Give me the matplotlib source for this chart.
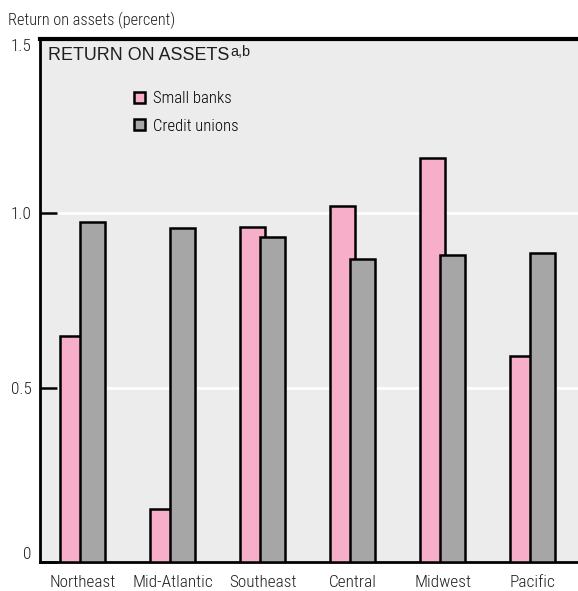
import matplotlib
matplotlib.use("Agg")
import matplotlib.pyplot as plt
from matplotlib.patches import Patch
import numpy as np

regions = ["Northeast", "Mid-Atlantic", "Southeast", "Central", "Midwest", "Pacific"]
small_banks = [0.647, 0.151, 0.961, 1.020, 1.160, 0.591]
credit_unions = [0.975, 0.957, 0.932, 0.870, 0.881, 0.886]
series_names = ["Small banks", "Credit unions"]
y_ticks = [0, 0.5, 1.0, 1.5]
y_tick_labels = ["0", "0.5", "1.0", "1.5"]

PINK = "#f7aec8"
GRAY = "#a6a6a6"
BG = "#ececec"
TXT = "#1e1e1e"
NARROW = ["Roboto Condensed", "DejaVu Sans"]
REG = ["Liberation Sans", "DejaVu Sans"]

W, H = 578, 591
fig = plt.figure(figsize=(W/100, H/100), dpi=100)
ax = fig.add_axes([40/W, 29/H, 538/W, 523/H])
ax.set_facecolor(BG)

x = np.arange(len(regions))
w = 0.28
off = 0.115
ax.bar(x - off, small_banks, w, color=PINK, edgecolor="black", linewidth=1.8, zorder=3)
ax.bar(x + off, credit_unions, w, color=GRAY, edgecolor="black", linewidth=1.8, zorder=4)

ax.set_xlim((40 - 82.5)/90, (578 - 82.5)/90)
ax.set_ylim(0, 1.5)

for g in [0.5, 1.0]:
    ax.axhline(g, color="white", linewidth=2, zorder=1)

renderer = fig.canvas.get_renderer()
def fit_size(text, family, target_px, base=10.0, weight="normal"):
    t = fig.text(0, 0, text, family=family, fontsize=base, weight=weight)
    wpx = t.get_window_extent(renderer).width
    t.remove()
    return base * target_px / wpx

WT = "light"
fs_tick = fit_size("Mid-Atlantic", NARROW, 80, weight=WT)
fs_ylab = fit_size("Return on assets (percent)", NARROW, 167, weight=WT)
fs_leg = fit_size("Small banks", NARROW, 79, weight=WT)
fs_title = fit_size("RETURN ON ASSETS", REG, 181)

ax.set_yticks(y_ticks)
ax.set_yticklabels(y_tick_labels, family=NARROW, fontsize=fs_tick, color=TXT, weight=WT)
ax.tick_params(axis="y", direction="in", length=12.5, width=1.8, pad=6, color="black")
labs = ax.get_yticklabels()
labs[0].set_va("bottom")
labs[-1].set_va("top")

ax.set_xticks(x)
ax.set_xticklabels(regions, family=NARROW, fontsize=fs_tick, color=TXT, weight=WT)
ax.tick_params(axis="x", length=0, pad=9.5)

for s in ["left", "bottom"]:
    ax.spines[s].set_linewidth(2)
ax.spines["top"].set_linewidth(3)
ax.spines["right"].set_visible(False)

t = ax.text(48/W, 1 - 60/H, "RETURN ON ASSETS", transform=fig.transFigure, family=REG,
            fontsize=fs_title, va="baseline", ha="left", color=TXT)
ax.annotate("a,b", xy=(1, 1), xycoords=t, xytext=(0.5, 1.5), textcoords="offset points",
            fontsize=fs_title*0.8, family=REG, va="top", ha="left", color=TXT)

handles = [Patch(facecolor=PINK, edgecolor="black", linewidth=1.8),
           Patch(facecolor=GRAY, edgecolor="black", linewidth=1.8)]
fpx = fs_leg * 100 / 72
ax.legend(handles, series_names, loc="upper left",
          bbox_to_anchor=(134/W, 1 - 91/H), bbox_transform=fig.transFigure,
          frameon=False, prop={"family": NARROW, "size": fs_leg, "weight": WT},
          handlelength=11/fpx, handleheight=11/fpx, handletextpad=8/fpx,
          labelspacing=0.75, borderaxespad=0, borderpad=0)

fig.text(8/W, 1 - 25/H, "Return on assets (percent)", family=NARROW, fontsize=fs_ylab,
         color=TXT, va="baseline", ha="left", weight=WT)

fig.savefig("out.png", dpi=100)
